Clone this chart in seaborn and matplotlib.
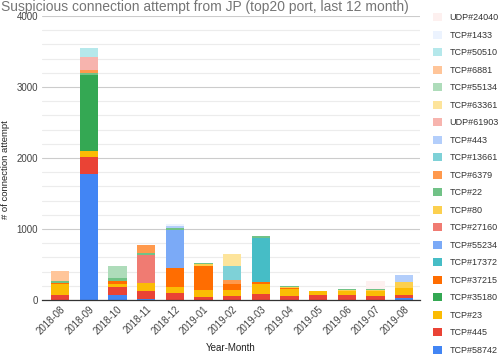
import pandas as pd
import matplotlib.pyplot as plt
import seaborn as sns
from matplotlib.patches import Patch
from matplotlib.ticker import MultipleLocator

months = ['2018-08', '2018-09', '2018-10', '2018-11', '2018-12', '2019-01', '2019-02',
          '2019-03', '2019-04', '2019-05', '2019-06', '2019-07', '2019-08']

# ports, bottom of the stack first
ports = ['TCP#58742', 'TCP#445', 'TCP#23', 'TCP#35180', 'TCP#37215', 'TCP#17372', 'TCP#55234',
         'TCP#27160', 'TCP#80', 'TCP#22', 'TCP#6379', 'TCP#13661', 'TCP#443', 'UDP#61903',
         'TCP#63361', 'TCP#55134', 'TCP#6881', 'TCP#50510', 'TCP#1433', 'UDP#24040']

tcp58742 = [0, 1780, 75, 10, 0, 0, 0, 0, 0, 0, 0, 0, 28]
tcp445 = [75, 240, 108, 117, 103, 40, 62, 89, 60, 65, 65, 62, 47]
tcp23 = [155, 85, 42, 117, 80, 103, 80, 140, 95, 55, 55, 60, 94]
tcp35180 = [0, 1060, 0, 0, 0, 0, 0, 0, 0, 0, 0, 0, 0]
tcp37215 = [15, 0, 37, 0, 271, 337, 84, 20, 15, 0, 0, 0, 0]
tcp17372 = [0, 0, 0, 0, 0, 0, 0, 618, 0, 0, 0, 0, 0]
tcp55234 = [0, 0, 0, 0, 529, 0, 0, 0, 0, 0, 0, 0, 0]
tcp27160 = [0, 0, 0, 388, 0, 0, 0, 0, 0, 0, 0, 0, 0]
tcp80 = [0, 0, 0, 0, 0, 20, 0, 0, 10, 0, 22, 23, 80]
tcp22 = [20, 34, 47, 33, 37, 25, 0, 33, 20, 12, 13, 14, 0]
tcp6379 = [0, 47, 0, 112, 0, 0, 52, 0, 0, 0, 0, 0, 0]
tcp13661 = [0, 0, 0, 0, 0, 0, 206, 0, 0, 0, 0, 0, 0]
tcp443 = [0, 0, 0, 0, 20, 0, 0, 0, 0, 0, 0, 0, 98]
udp61903 = [0, 173, 0, 0, 0, 0, 0, 0, 0, 0, 0, 0, 0]
tcp63361 = [0, 0, 0, 0, 0, 0, 164, 0, 0, 0, 0, 0, 0]
tcp55134 = [0, 0, 173, 0, 0, 0, 0, 0, 0, 0, 0, 0, 0]
tcp6881 = [145, 0, 0, 0, 0, 0, 0, 0, 0, 0, 0, 0, 0]
tcp50510 = [0, 132, 0, 0, 0, 0, 0, 0, 0, 0, 0, 0, 0]
tcp1433 = [0, 0, 0, 0, 35, 0, 0, 0, 0, 0, 0, 0, 0]
udp24040 = [0, 0, 0, 0, 0, 0, 0, 0, 0, 0, 0, 103, 0]

series = [tcp58742, tcp445, tcp23, tcp35180, tcp37215, tcp17372, tcp55234, tcp27160, tcp80,
          tcp22, tcp6379, tcp13661, tcp443, udp61903, tcp63361, tcp55134, tcp6881, tcp50510,
          tcp1433, udp24040]

colors = ['#4285F4', '#EA4335', '#FBBC04', '#34A853', '#FF6D01', '#46BDC6', '#7BAAF7',
          '#F07B72', '#FCD04F', '#71C287', '#FF994D', '#7ED1D7', '#B3CEFB', '#F7B4AE',
          '#FDE49B', '#AEDCBA', '#FFC599', '#B5E8EB', '#ECF3FE', '#FDF0EF']

rows = []
for port, vals in zip(ports, series):
    for m, v in zip(months, vals):
        rows.append({'month': m, 'port': port, 'count': v})
df = pd.DataFrame(rows)

sns.set_theme(style="white")
plt.rcParams['font.family'] = ['Liberation Sans', 'DejaVu Sans']

fig = plt.figure(figsize=(5, 3.55), dpi=100)
ax = fig.add_axes([0.084, 0.155, 0.756, 0.80])

# seaborn stacks the last hue level at the bottom
hue_order = ports[::-1]
pal = dict(zip(ports, colors))
sns.histplot(data=df, x='month', weights='count', hue='port', hue_order=hue_order,
             multiple='stack', discrete=True, shrink=0.64, palette=pal,
             alpha=1, linewidth=0, legend=False, ax=ax)

ax.set_ylim(0, 4000)
ax.set_xlim(-0.63, 12.55)
ax.yaxis.set_major_locator(MultipleLocator(1000))
ax.yaxis.set_minor_locator(MultipleLocator(200))
ax.grid(axis='y', which='major', color='#cccccc', linewidth=0.8)
ax.grid(axis='y', which='minor', color='#ececec', linewidth=0.8)
ax.grid(axis='x', visible=False)
ax.set_axisbelow(True)
for s in ['top', 'right', 'left']:
    ax.spines[s].set_visible(False)
ax.spines['bottom'].set_color('#333333')
ax.spines['bottom'].set_linewidth(0.9)

ax.tick_params(axis='both', which='both', length=0, labelsize=7, colors='#444444', pad=3)
ax.set_xticks(range(len(months)))
ax.set_xticklabels(months, rotation=45, ha='right', rotation_mode='anchor')
ax.set_xlabel('Year-Month', fontsize=7, color='#222222')
ax.set_ylabel('# of connection attempt', fontsize=6.8, color='#222222')
ax.xaxis.set_label_coords(0.5, -0.152)
ax.yaxis.set_label_coords(-0.084, 0.46)

fig.text(0.002, 1.0, 'Suspicious connection attempt from JP (top20 port, last 12 month)',
         fontsize=10, color='#757575', ha='left', va='top')

handles = [Patch(facecolor=pal[p], edgecolor='none', label=p) for p in hue_order]
fig.legend(handles=handles, loc='upper left', bbox_to_anchor=(0.866, 0.962), frameon=False,
           fontsize=6.5, handlelength=0.95, handleheight=0.95, handletextpad=0.85,
           labelspacing=0.94, borderaxespad=0, borderpad=0, labelcolor='#333333')

fig.savefig('out.png', dpi=100)
